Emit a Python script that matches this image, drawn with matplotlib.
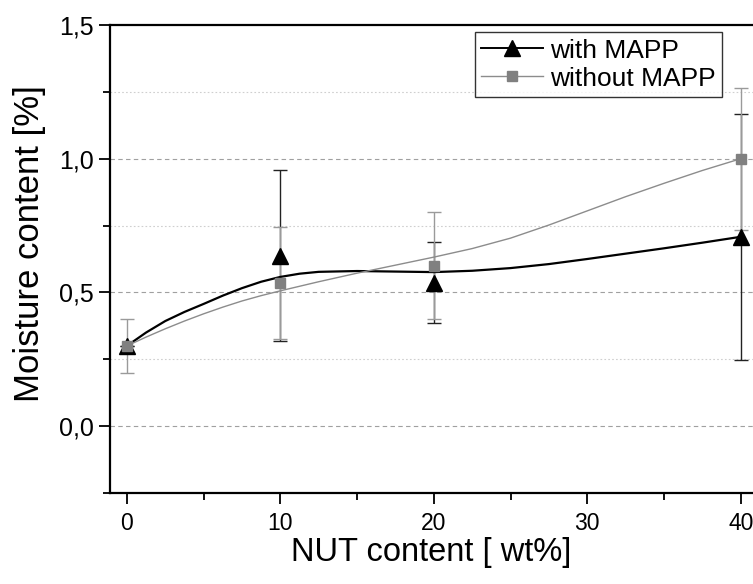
import matplotlib
matplotlib.use("Agg")
import matplotlib.pyplot as plt
from matplotlib.ticker import MultipleLocator, FuncFormatter

plt.rcParams['font.family'] = ['Liberation Sans', 'DejaVu Sans']

# data
nut = [0, 10, 20, 40]
with_mapp = [0.30, 0.638, 0.537, 0.708]
with_mapp_err = [0.0, 0.32, 0.15, 0.46]
without_mapp = [0.30, 0.535, 0.60, 1.0]
without_mapp_err = [0.10, 0.21, 0.20, 0.265]

# smoothed fit curves
fit_x = [0, 1.25, 2.5, 3.75, 5, 6.25, 7.5, 8.75, 10, 11.25, 12.5, 15, 17.5, 20,
         22.5, 25, 27.5, 30, 32.5, 35, 37.5, 40]
fit_with = [0.30, 0.350, 0.393, 0.427, 0.457, 0.488, 0.516, 0.540, 0.558, 0.570, 0.577,
            0.580, 0.578, 0.576, 0.581, 0.591, 0.606, 0.625, 0.645, 0.665, 0.686, 0.708]
fit_without = [0.30, 0.333, 0.364, 0.393, 0.420, 0.445, 0.468, 0.488, 0.506, 0.523, 0.540,
               0.572, 0.602, 0.632, 0.664, 0.703, 0.752, 0.805, 0.858, 0.908, 0.956, 1.0]

fig = plt.figure(figsize=(7.53, 5.84), dpi=100)
ax = fig.add_axes([110/753, (584-493)/584, (753-110)/753, (493-25)/584])

# grid
for v in [0.0, 0.5, 1.0]:
    ax.axhline(v, color='#a0a0a0', lw=0.8, ls=(0, (4, 3)), zorder=0)
for v in [0.25, 0.75, 1.25]:
    ax.axhline(v, color='#cfcfcf', lw=0.8, ls=(0, (1.5, 2)), zorder=0)

# error bars
ax.errorbar(nut, with_mapp, yerr=with_mapp_err, fmt='none', ecolor='#222222',
            elinewidth=1.0, capsize=5, capthick=1.0, zorder=2)
ax.errorbar(nut, without_mapp, yerr=without_mapp_err, fmt='none', ecolor='#9a9a9a',
            elinewidth=1.0, capsize=5, capthick=1.0, zorder=3)

# curves
ax.plot(fit_x, fit_with, color='black', lw=1.6, zorder=4)
ax.plot(fit_x, fit_without, color='#8c8c8c', lw=1.0, zorder=4)

# markers
ax.plot(nut, with_mapp, ls='none', marker='^', ms=11, color='black', zorder=5)
ax.plot(nut, without_mapp, ls='none', marker='s', ms=7.5, color='#808080', zorder=6)

# legend handles
h1, = ax.plot([], [], color='black', lw=1.4, marker='^', ms=11)
h2, = ax.plot([], [], color='#8c8c8c', lw=1.0, marker='s', ms=7.5, mfc='#808080', mec='#808080')
leg = ax.legend([h1, h2], ['with MAPP', 'without MAPP'], loc='upper right',
                bbox_to_anchor=(0.952, 0.985), fontsize=19, frameon=True, fancybox=False,
                edgecolor='black', handlelength=2.35, handletextpad=0.25, borderpad=0.25,
                labelspacing=0.15, borderaxespad=0.0)
leg.get_frame().set_linewidth(1.0)

ax.set_xlim(-1.1, 40.8)
ax.set_ylim(-0.25, 1.5)

ax.xaxis.set_major_locator(MultipleLocator(10))
ax.xaxis.set_minor_locator(MultipleLocator(5))
ax.yaxis.set_major_locator(MultipleLocator(0.5))
ax.yaxis.set_minor_locator(MultipleLocator(0.25))
ax.yaxis.set_major_formatter(FuncFormatter(lambda v, p: f"{v:.1f}".replace('.', ',')))

ax.tick_params(axis='both', which='major', direction='out', length=8, width=1.3)
ax.tick_params(axis='y', which='major', labelsize=18)
ax.tick_params(axis='x', which='major', labelsize=16.5, pad=6)
ax.tick_params(axis='both', which='minor', direction='out', length=5, width=1.3)

for s in ['left', 'bottom', 'top']:
    ax.spines[s].set_linewidth(1.6)
ax.spines['right'].set_visible(False)

ax.set_xlabel('NUT content [ wt%]', fontsize=23.5, labelpad=1)
ax.set_ylabel('Moisture content [%]', fontsize=25)
ax.yaxis.set_label_coords(-0.1, 0.534)

fig.savefig('out.png', dpi=100)
